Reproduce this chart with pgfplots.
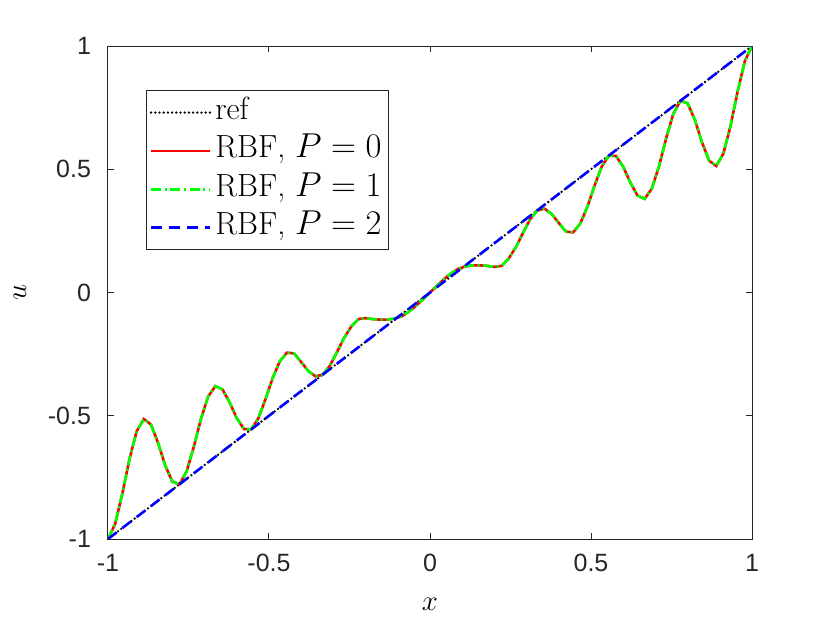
\documentclass[border=0pt]{standalone}
\usepackage{fontspec}
\usepackage{pgfplots}
\pgfplotsset{compat=1.18}
\newfontfamily\ticksf{Liberation Sans}
\definecolor{axgray}{RGB}{38,38,38}
\pgfplotstableread{
x u
-1 -1
-0.97778 -0.93852
-0.95556 -0.81659
-0.93333 -0.67589
-0.91111 -0.56338
-0.88889 -0.51333
-0.86667 -0.53502
-0.84444 -0.61027
-0.82222 -0.70168
-0.8 -0.76753
-0.77778 -0.77778
-0.75556 -0.72479
-0.73333 -0.62507
-0.71111 -0.51185
-0.68889 -0.42156
-0.66667 -0.38
-0.64444 -0.39319
-0.62222 -0.44623
-0.6 -0.51017
-0.57778 -0.5538
-0.55556 -0.55556
-0.53333 -0.51105
-0.51111 -0.43357
-0.48889 -0.34781
-0.46667 -0.27974
-0.44444 -0.2440
-0.42222 -0.2470
-0.4 -0.28219
-0.37778 -0.31866
-0.35556 -0.34007
-0.33333 -0.33333
-0.31111 -0.29732
-0.28889 -0.24205
-0.26667 -0.18377
-0.24444 -0.13791
-0.22222 -0.1080
-0.2 -0.1040
-0.17778 -0.1080
-0.15556 -0.1100
-0.13333 -0.1100
-0.11111 -0.1060
-0.08889 -0.0970
-0.06667 -0.0790
-0.04444 -0.0550
-0.02222 -0.0280
0 0
0.02222 0.0280
0.04444 0.0550
0.06667 0.0790
0.08889 0.0970
0.11111 0.1060
0.13333 0.1100
0.15556 0.1100
0.17778 0.1080
0.2 0.1040
0.22222 0.1080
0.24444 0.13791
0.26667 0.18377
0.28889 0.24205
0.31111 0.29732
0.33333 0.33333
0.35556 0.34007
0.37778 0.31866
0.4 0.28219
0.42222 0.2470
0.44444 0.2440
0.46667 0.27974
0.48889 0.34781
0.51111 0.43357
0.53333 0.51105
0.55556 0.55556
0.57778 0.5538
0.6 0.51017
0.62222 0.44623
0.64444 0.39319
0.66667 0.38
0.68889 0.42156
0.71111 0.51185
0.73333 0.62507
0.75556 0.72479
0.77778 0.77778
0.8 0.76753
0.82222 0.70168
0.84444 0.61027
0.86667 0.53502
0.88889 0.51333
0.91111 0.56338
0.93333 0.67589
0.95556 0.81659
0.97778 0.93852
1 1
}\rbfdata
\begin{document}
\begin{tikzpicture}
\useasboundingbox (-54pt,-42pt) rectangle (361pt,269.5pt);
\begin{axis}[
  at={(0pt,0pt)}, anchor=south west,
  scale only axis, width=322pt, height=246.5pt,
  xmin=-1, xmax=1, ymin=-1, ymax=1,
  xtick={-1,-0.5,0,0.5,1}, xticklabels={-1,-0.5,0,0.5,1},
  ytick={-1,-0.5,0,0.5,1}, yticklabels={-1,-0.5,0,0.5,1},
  xtick pos=both, ytick pos=both, tick align=inside,
  major tick length=3pt,
  axis line style={draw=axgray, line width=0.5pt},
  tick style={draw=axgray, line width=0.5pt},
  tick label style={font=\ticksf\fontsize{12.5}{14}\selectfont, text=axgray},
  xticklabel style={yshift=-4pt},
  yticklabel style={xshift=-5pt},
  every axis x label/.style={at={(axis description cs:0.5,0)}, anchor=center, yshift=-32.5pt},
  every axis y label/.style={at={(axis description cs:0,0.5)}, anchor=center, xshift=-44pt, rotate=90},
  label style={font=\fontsize{15}{17}\selectfont},
  xlabel={$x$}, ylabel={$u$},
  legend cell align=left,
  legend image code/.code={\draw[#1] (0pt,0pt) -- (29.5pt,0pt);},
  legend style={at={(axis description cs:0.0595,0.911)}, anchor=north west,
    draw=axgray, line width=0.5pt, fill=white, inner sep=1.5pt, row sep=0pt,
    font=\fontsize{16}{19}\selectfont,
    nodes={inner sep=2pt, text height=11pt, text depth=4.2pt}},
]
\addplot[black, line width=1.3pt, line cap=round, dash pattern=on 0pt off 2.1pt] coordinates {(-1,-1) (1,1)};
\addlegendentry{ref}
\addplot[red, line width=1.3pt] table {\rbfdata};
\addlegendentry{RBF, $P=0$}
\addplot[green, line width=1.3pt, dash pattern=on 5pt off 1.8pt on 1pt off 1.8pt] table {\rbfdata};
\addlegendentry{RBF, $P=1$}
\addplot[blue, line width=1.3pt, dash pattern=on 5.5pt off 3.5pt] coordinates {(-1,-1) (1,1)};
\addlegendentry{RBF, $P=2$}
\end{axis}
\end{tikzpicture}
\end{document}
